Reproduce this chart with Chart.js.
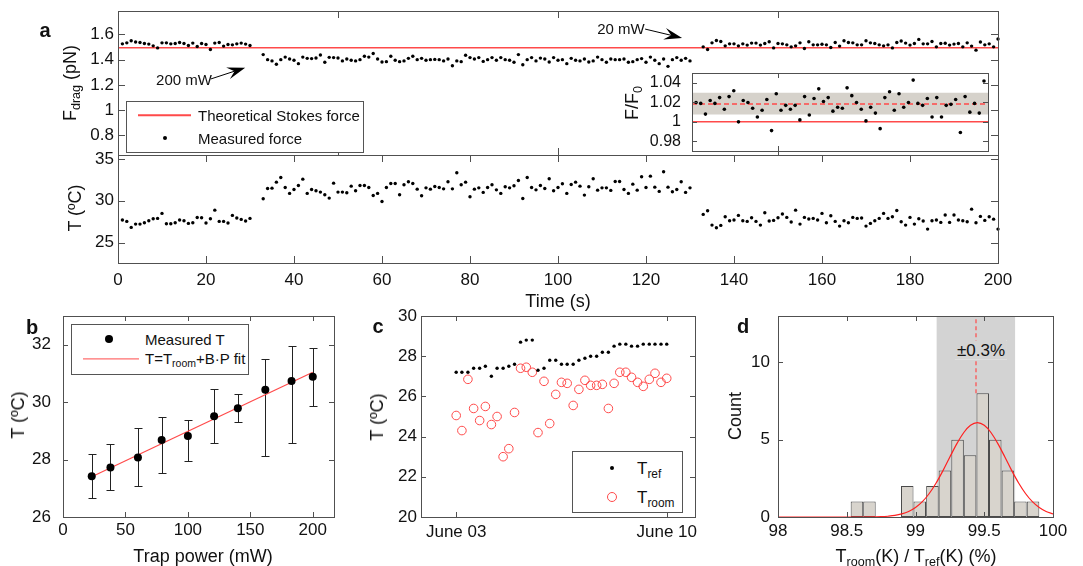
<!DOCTYPE html>
<html>
<head>
<meta charset="utf-8">
<script src="https://cdn.jsdelivr.net/npm/chart.js@4.4.1/dist/chart.umd.min.js"></script>
<style>
body { margin: 0; background: #fff; }
#fig { position: relative; width: 1083px; height: 566px; overflow: hidden; font-family: "Liberation Sans", Arial, sans-serif; color: #111; }
#fig canvas { position: absolute; left: 0; top: 0; }
.t { position: absolute; white-space: nowrap; line-height: 1; transform: translate(-50%, -50%); }
.r { transform: translate(-50%, -50%) rotate(-90deg); }
.pl { font-weight: bold; font-size: 20px; }
sub { font-size: 70%; vertical-align: -0.35em; line-height: 0; }
.leg { position: absolute; background: #fff; border: 1px solid #555; box-sizing: border-box; }
.leg span { position: absolute; transform: translateY(-50%); white-space: nowrap; line-height: 1; }
</style>
</head>
<body>
<div id="fig">
  <canvas id="cvTemp" width="1083" height="566"></canvas>
  <canvas id="cvForce" width="1083" height="566"></canvas>
  <canvas id="cvInset" width="1083" height="566"></canvas>
  <canvas id="cvB" width="1083" height="566"></canvas>
  <canvas id="cvC" width="1083" height="566"></canvas>
  <canvas id="cvD" width="1083" height="566"></canvas>

  <div class="t pl" style="left:45px;top:30px">a</div>
  <div class="t pl" style="left:32px;top:327px">b</div>
  <div class="t pl" style="left:378px;top:326px">c</div>
  <div class="t pl" style="left:743px;top:326px">d</div>

  <div class="t r" style="left:70px;top:83px;font-size:18px">F<sub>drag</sub> (pN)</div>
  <div class="t r" style="left:75px;top:208px;font-size:18px">T (ºC)</div>
  <div class="t" style="left:558px;top:301px;font-size:18px">Time (s)</div>
  <div class="t r" style="left:632px;top:103px;font-size:18px">F/F<sub>0</sub></div>
  <div class="t" style="left:184px;top:79px;font-size:15px">200 mW</div>
  <div class="t" style="left:621px;top:28px;font-size:15px">20 mW</div>

  <div class="leg" style="left:126px;top:101px;width:238px;height:52px">
    <span style="left:11px;top:13px;width:53px;height:1.5px;background:#ff4a4a"></span>
    <span style="left:36px;top:36px;width:4px;height:4px;border-radius:50%;background:#000"></span>
    <span style="left:71px;top:13px;font-size:15px">Theoretical Stokes force</span>
    <span style="left:71px;top:36px;font-size:15px">Measured force</span>
  </div>

  <div class="t r" style="left:18px;top:415px;font-size:18px">T (ºC)</div>
  <div class="t" style="left:203px;top:556px;font-size:18px">Trap power (mW)</div>
  <div class="leg" style="left:71px;top:324px;width:178px;height:51px">
    <span style="left:33px;top:14px;width:8px;height:8px;border-radius:50%;background:#000"></span>
    <span style="left:11px;top:34px;width:56px;height:1.2px;background:#ff4a4a"></span>
    <span style="left:73px;top:14px;font-size:15px">Measured T</span>
    <span style="left:73px;top:33px;font-size:15px">T=T<sub>room</sub>+B·P fit</span>
  </div>

  <div class="t r" style="left:377px;top:417px;font-size:18px">T (ºC)</div>
  <div class="leg" style="left:572px;top:451px;width:111px;height:62px">
    <span style="left:37px;top:16px;width:4px;height:4px;border-radius:50%;background:#000"></span>
    <span style="left:34px;top:45px;width:10px;height:10px;border-radius:50%;border:1px solid #ff4a4a;box-sizing:border-box"></span>
    <span style="left:64px;top:16px;font-size:17px">T<sub>ref</sub></span>
    <span style="left:64px;top:45px;font-size:17px">T<sub>room</sub></span>
  </div>

  <div class="t r" style="left:735px;top:416px;font-size:18px">Count</div>
  <div class="t" style="left:916px;top:556px;font-size:18px">T<sub>room</sub>(K) / T<sub>ref</sub>(K) (%)</div>
  <div class="t" style="left:981px;top:350px;font-size:17px;background:#d3d3d3;padding:1px 2px">±0.3%</div>
</div>

<script>
const W = 1083, H = 566;
const FONT = '"Liberation Sans", Arial, sans-serif';
const RED = '#ff4a4a';
const AXIS = '#505050';

// ---- panel a: one point per second, three laser power segments ----
const seg20aStart = 1, seg200Start = 33, seg20bStart = 133;
const force20a = [1.525, 1.533, 1.549, 1.539, 1.536, 1.528, 1.523, 1.509, 1.493, 1.533, 1.533, 1.525, 1.528, 1.536, 1.528,
  1.512, 1.531, 1.504, 1.528, 1.52, 1.48, 1.531, 1.536, 1.507, 1.52, 1.517, 1.525, 1.531, 1.523, 1.512];
const force200 = [1.44, 1.40, 1.39, 1.363, 1.40, 1.42, 1.405, 1.395, 1.368, 1.42, 1.41, 1.408, 1.413, 1.437, 1.379, 1.418,
  1.416, 1.413, 1.39, 1.405, 1.395, 1.39, 1.40, 1.427, 1.42, 1.448, 1.405, 1.381, 1.384, 1.427, 1.395, 1.384, 1.39, 1.41,
  1.427, 1.40, 1.41, 1.395, 1.40, 1.402, 1.40, 1.39, 1.405, 1.352, 1.39, 1.384, 1.435, 1.416, 1.405, 1.416, 1.386, 1.40,
  1.416, 1.395, 1.416, 1.40, 1.395, 1.379, 1.44, 1.36, 1.40, 1.416, 1.39, 1.412, 1.405, 1.381, 1.416,
  1.395, 1.40, 1.368, 1.41, 1.395, 1.39, 1.405, 1.381, 1.39, 1.42, 1.40, 1.379, 1.405, 1.40, 1.40, 1.405, 1.379, 1.384,
  1.40, 1.408, 1.379, 1.42, 1.395, 1.368, 1.405, 1.347, 1.40, 1.416, 1.395, 1.41, 1.39];
const force20b = [1.501, 1.48, 1.533, 1.552, 1.544, 1.509, 1.525, 1.525, 1.509, 1.525, 1.515, 1.531, 1.531, 1.515, 1.528,
  1.541, 1.493, 1.528, 1.525, 1.517, 1.501, 1.509, 1.533, 1.488, 1.541, 1.517, 1.517, 1.522, 1.517, 1.496, 1.536, 1.507,
  1.549, 1.536, 1.533, 1.517, 1.517, 1.549, 1.533, 1.528, 1.517, 1.509, 1.517, 1.493, 1.536, 1.547, 1.531, 1.515, 1.528,
  1.56, 1.525, 1.525, 1.544, 1.501, 1.528, 1.53, 1.515, 1.523, 1.528, 1.501, 1.533, 1.507, 1.475, 1.539, 1.517, 1.525,
  1.501, 1.563];
const stokesForce = 1.494;

const temp20a = [27.69, 27.53, 26.81, 27.21, 27.21, 27.37, 27.61, 27.85, 27.89, 28.49, 27.25, 27.25, 27.37, 27.69, 27.61,
  27.29, 27.37, 28.0, 27.97, 27.33, 27.85, 28.88, 27.53, 27.53, 27.33, 28.25, 27.93, 27.77, 27.57, 27.89];
const temp200 = [30.24, 31.47, 31.51, 32.23, 32.79, 31.59, 30.88, 31.35, 31.83, 32.59, 30.88, 31.35, 31.2, 31.04, 30.72,
  30.32, 32.11, 31.04, 31.04, 30.96, 31.75, 31.2, 31.83, 31.83, 31.59, 30.64, 30.88, 29.92, 31.59, 32.07, 32.07, 30.72,
  31.91, 32.27, 32.07, 31.39, 30.6, 31.55, 31.39, 31.71, 31.59, 31.43, 32.27, 31.43, 33.35, 31.91, 32.23, 30.48, 31.39,
  31.55, 31.0, 31.59, 31.91, 31.31, 30.88, 31.67, 31.55, 31.79, 32.43, 30.28, 32.79, 31.59, 31.31, 31.83, 31.47, 32.63,
  31.2, 31.59,
  32.03, 30.88, 31.95, 32.23, 31.75, 30.68, 31.67, 32.63, 31.27, 31.55, 31.55, 31.24, 32.31, 32.31, 31.35, 30.88, 31.99,
  31.27, 32.87, 31.59, 32.95, 31.63, 31.12, 33.47, 31.63, 31.08, 31.35, 32.27, 31.0, 31.55];
const temp20b = [28.37, 28.8, 27.09, 26.77, 27.05, 28.09, 27.61, 27.69, 28.25, 27.61, 27.53, 27.97, 27.53, 27.09, 28.57,
  27.57, 27.65, 27.97, 28.41, 28.01, 27.45, 28.88, 27.21, 28.01, 27.81, 27.89, 27.69, 28.49, 27.37, 28.21, 27.53, 26.97,
  27.61, 27.37, 28.01, 27.89, 27.93, 26.97, 27.29, 27.61, 27.89, 28.49, 27.89, 28.09, 28.84, 27.49, 27.09, 28.01, 27.21,
  27.85, 27.57, 26.61, 27.61, 27.69, 27.41, 28.29, 27.41, 28.29, 27.69, 27.61, 27.49, 29.0, 27.37, 28.13, 27.65, 28.09,
  27.8, 26.61];

const forceTicks = [0.8, 1, 1.2, 1.4, 1.6];
const tempTicks = [25, 30, 35];
const timeTicks = [0, 20, 40, 60, 80, 100, 120, 140, 160, 180, 200];
const timeTicksTop = [0, 50, 100, 150, 200];

// inset: F/F0 for each run
const ratioRuns = [1.020, 1.019, 1.008, 1.022, 1.019, 1.025, 1.013, 1.026, 1.032, 1.000, 1.022, 1.020, 1.014, 1.005, 1.012,
  1.023, 0.991, 1.029, 1.012, 1.017, 1.013, 1.017, 1.002, 1.026, 1.007, 1.024, 1.034, 1.021, 1.025, 1.011, 1.015, 1.014,
  1.035, 1.027, 1.020, 1.013, 1.001, 1.015, 1.009, 0.993, 1.025, 1.031, 1.012, 1.029, 1.015, 1.020, 1.043, 1.019, 1.017,
  1.024, 1.005, 1.025, 1.005, 1.017, 1.018, 1.023, 0.989, 1.026, 1.010, 1.019, 1.009, 1.042];
const ratioMean = 1.0184;
const ratioBand = [1.0075, 1.030];
const ratioTicks = [0.98, 1, 1.02, 1.04];
const insetTickX = [18.4];

// ---- panel b ----
const trapPower = [23, 38, 60, 79, 100, 121, 140, 162, 183, 200];
const tMeasured = [27.42, 27.72, 28.07, 28.68, 28.82, 29.51, 29.79, 30.43, 30.74, 30.88];
const tErrHigh = [28.18, 28.55, 29.09, 29.49, 29.38, 30.46, 30.27, 31.51, 31.94, 31.88];
const tErrLow = [26.67, 26.94, 27.09, 27.53, 27.94, 28.57, 29.32, 28.14, 28.56, 29.87];
const fitPower = [23, 200];
const fitT = [27.40, 31.04];

// ---- panel c: day of June ----
const measDay = [3.00, 3.19, 3.39, 3.58, 3.78, 3.97, 4.17, 4.36, 4.56, 4.75, 4.94, 5.14, 5.33, 5.53, 5.72, 5.92, 6.11,
  6.31, 6.50, 6.69, 6.89, 7.08, 7.28, 7.47, 7.67, 7.86, 8.06, 8.25, 8.44, 8.64, 8.83, 9.03, 9.22, 9.42, 9.61, 9.81, 10.00];
const tRef = [27.2, 27.2, 27.2, 27.4, 27.4, 27.5, 27.0, 27.4, 27.4, 27.5, 27.6, 28.7, 28.8, 28.8, 27.3, 27.4, 27.8, 27.8,
  27.6, 27.6, 27.6, 27.8, 27.9, 28.0, 28.0, 28.2, 28.2, 28.5, 28.6, 28.6, 28.5, 28.5, 28.6, 28.6, 28.6, 28.6, 28.6];
const tRoom = [25.05, 24.3, 26.85, 25.4, 24.8, 25.5, 24.6, 25.0, 23.0, 23.4, 25.2, 27.4, 27.45, 27.2, 24.2, 26.75, 24.65,
  26.1, 26.7, 26.65, 25.55, 26.35, 26.8, 26.55, 26.55, 26.6, 25.4, 26.65, 27.2, 27.2, 26.95, 26.7, 26.5, 26.85, 27.15,
  26.7, 26.9];
const dateTickDays = [3, 10];
const dateTickLabels = ['June 03', 'June 10'];

// ---- panel d: histogram of Troom/Tref (%) ----
const binCenters = [98.574, 98.665, 98.757, 98.848, 98.940, 99.031, 99.123, 99.214, 99.306, 99.397, 99.489, 99.580,
  99.672, 99.763, 99.855];
const binCounts = [1, 1, 0, 0, 2, 1, 2, 3, 5, 4, 8, 5, 3, 1, 1];
const gaussX = [98.0, 98.6, 98.7, 98.75, 98.8, 98.85, 98.9, 98.95, 99.0, 99.05, 99.1, 99.15, 99.2, 99.25, 99.3, 99.35,
  99.4, 99.45, 99.5, 99.55, 99.6, 99.65, 99.7, 99.75, 99.8, 99.85, 99.9, 99.95, 100.0];
const gaussY = [0, 0, 0.01, 0.02, 0.05, 0.10, 0.20, 0.36, 0.61, 0.99, 1.52, 2.20, 3.00, 3.88, 4.73, 5.45, 5.93, 6.10,
  5.93, 5.45, 4.73, 3.88, 3.00, 2.20, 1.52, 0.99, 0.61, 0.36, 0.20];
const ratioCenter = 99.44;
const ratioSpread = [99.152, 99.726];
const pctTicks = [98, 98.5, 99, 99.5, 100];
const countTicks = [0, 5, 10];

// ---------- helpers ----------
const seq = (start, vals) => vals.map((v, i) => ({ x: start + i, y: v }));
const pairs = (xs, ys) => xs.map((v, i) => ({ x: v, y: ys[i] }));

function axis(min, max, ticks, opts) {
  opts = opts || {};
  return {
    type: 'linear', min: min, max: max, offset: false,
    afterBuildTicks: s => { s.ticks = ticks.map(v => ({ value: v })); },
    grid: { display: false, drawTicks: false },
    border: { display: false },
    ticks: {
      display: opts.show !== false, padding: opts.pad || 4, color: '#111', autoSkip: false, maxRotation: 0,
      font: { family: FONT, size: opts.size || 17 },
      callback: opts.fmt || (v => String(v))
    }
  };
}

// box + inward tick marks on all four sides (MATLAB style)
const framePlugin = {
  id: 'frame',
  afterDraw(chart, args, o) {
    if (!o.xt) return;
    const { ctx, chartArea: a, scales: { x, y } } = chart;
    const len = o.len || 5;
    ctx.save();
    ctx.strokeStyle = AXIS;
    ctx.lineWidth = 1;
    ctx.beginPath();
    o.xt.forEach(v => {
      const px = Math.round(x.getPixelForValue(v)) + 0.5;
      ctx.moveTo(px, a.bottom); ctx.lineTo(px, a.bottom - len);
      ctx.moveTo(px, a.top); ctx.lineTo(px, a.top + len);
    });
    o.yt.forEach(v => {
      const py = Math.round(y.getPixelForValue(v)) + 0.5;
      ctx.moveTo(a.left, py); ctx.lineTo(a.left + len, py);
      ctx.moveTo(a.right, py); ctx.lineTo(a.right - len, py);
    });
    ctx.stroke();
    ctx.strokeRect(a.left + 0.5, a.top + 0.5, a.right - a.left, a.bottom - a.top);
    ctx.restore();
  }
};

const whiteBg = {
  id: 'whiteBg',
  beforeDraw(chart, args, o) {
    if (!o.on) return;
    const { ctx, chartArea: a } = chart;
    ctx.save();
    ctx.fillStyle = '#fff';
    ctx.fillRect(a.left, a.top, a.right - a.left, a.bottom - a.top);
    ctx.restore();
  }
};

const errorBars = {
  id: 'errorBars',
  beforeDatasetsDraw(chart, args, o) {
    if (!o.xs) return;
    const { ctx, scales: { x, y } } = chart;
    ctx.save();
    ctx.strokeStyle = '#222';
    ctx.lineWidth = 1;
    ctx.beginPath();
    o.xs.forEach((v, i) => {
      const px = Math.round(x.getPixelForValue(v)) + 0.5;
      const top = Math.round(y.getPixelForValue(o.hi[i])) + 0.5;
      const bot = Math.round(y.getPixelForValue(o.lo[i])) + 0.5;
      ctx.moveTo(px, top); ctx.lineTo(px, bot);
      ctx.moveTo(px - o.cap, top); ctx.lineTo(px + o.cap, top);
      ctx.moveTo(px - o.cap, bot); ctx.lineTo(px + o.cap, bot);
    });
    ctx.stroke();
    ctx.restore();
  }
};

const arrows = {
  id: 'arrows',
  afterDatasetsDraw(chart, args, o) {
    if (!o.list) return;
    const { ctx, scales: { x, y } } = chart;
    o.list.forEach(a => {
      const x0 = x.getPixelForValue(a.from[0]), y0 = y.getPixelForValue(a.from[1]);
      const x1 = x.getPixelForValue(a.to[0]), y1 = y.getPixelForValue(a.to[1]);
      const ang = Math.atan2(y1 - y0, x1 - x0);
      const L = 18, hw = 6;
      ctx.save();
      ctx.strokeStyle = '#000';
      ctx.lineWidth = 1;
      ctx.beginPath();
      ctx.moveTo(x0, y0);
      ctx.lineTo(x1 - Math.cos(ang) * L * 0.6, y1 - Math.sin(ang) * L * 0.6);
      ctx.stroke();
      ctx.translate(x1, y1);
      ctx.rotate(ang);
      ctx.beginPath();
      ctx.moveTo(0, 0);
      ctx.lineTo(-L, -hw);
      ctx.lineTo(-L * 0.62, 0);
      ctx.lineTo(-L, hw);
      ctx.closePath();
      ctx.fillStyle = '#000';
      ctx.fill();
      ctx.restore();
    });
  }
};

Chart.register(framePlugin, whiteBg, errorBars, arrows);

// the y axis box fills everything left of the plot, the x axis box everything below it,
// so the plot area lands on rect = [left, top, right, bottom]
function makeChart(id, rect, cfg) {
  const [l, t, r, b] = rect;
  const o = cfg.options;
  o.responsive = false;
  o.animation = false;
  o.events = [];
  o.devicePixelRatio = 1;
  o.layout = { padding: { left: 0, top: t, right: W - r, bottom: 0 } };
  o.scales.x.afterFit = s => { s.height = H - b; s.paddingLeft = s.paddingRight = s.paddingTop = s.paddingBottom = 0; };
  o.scales.y.afterFit = s => { s.width = l; s.paddingLeft = s.paddingRight = s.paddingTop = s.paddingBottom = 0; };
  o.plugins = Object.assign({ legend: { display: false }, tooltip: { enabled: false } }, o.plugins);
  return new Chart(document.getElementById(id), cfg);
}

const dot = (data, r) => ({ data: data, pointRadius: r, pointBackgroundColor: '#000', pointBorderWidth: 0, clip: false });
const hline = (x0, x1, v, color, width, dash) => ({
  type: 'line', data: [{ x: x0, y: v }, { x: x1, y: v }], borderColor: color, borderWidth: width,
  borderDash: dash || [], pointRadius: 0
});

// a, bottom: temperature vs time
makeChart('cvTemp', [118, 155, 998, 263], {
  type: 'scatter',
  data: { datasets: [dot(seq(seg20aStart, temp20a).concat(seq(seg200Start, temp200), seq(seg20bStart, temp20b)), 1.7)] },
  options: {
    scales: { x: axis(0, 200, timeTicks, { pad: 7 }), y: axis(22.55, 35.48, tempTicks) },
    plugins: { frame: { xt: timeTicks, yt: tempTicks, len: 7 } }
  }
});

// a, top: drag force vs time (first dataset is drawn on top)
makeChart('cvForce', [118, 11, 998, 155], {
  type: 'scatter',
  data: {
    datasets: [
      dot(seq(seg20aStart, force20a).concat(seq(seg200Start, force200), seq(seg20bStart, force20b)), 1.7),
      hline(0, 200, stokesForce, RED, 1.5)
    ]
  },
  options: {
    scales: { x: axis(0, 200, timeTicksTop, { show: false }), y: axis(0.645, 1.785, forceTicks) },
    plugins: {
      frame: { xt: timeTicksTop, yt: forceTicks, len: 7 },
      arrows: { list: [{ from: [21.1, 1.247], to: [28.9, 1.336] }, { from: [119.8, 1.642], to: [128.2, 1.572] }] }
    }
  }
});

// a, inset: F/F0
makeChart('cvInset', [692, 73, 988, 151], {
  type: 'scatter',
  data: {
    datasets: [
      dot(seq(1, ratioRuns), 1.8),
      hline(0.15, 62.85, 1, RED, 1.5),
      hline(0.15, 62.85, ratioMean, RED, 1.5, [5, 3]),
      Object.assign(hline(0.15, 62.85, ratioBand[1], 'rgba(0,0,0,0)', 0), { fill: '+1', backgroundColor: '#d6d2cb' }),
      hline(0.15, 62.85, ratioBand[0], 'rgba(0,0,0,0)', 0)
    ]
  },
  options: {
    scales: { x: axis(0.15, 62.85, insetTickX, { show: false }), y: axis(0.97, 1.0503, ratioTicks, { pad: 11, size: 16 }) },
    plugins: { whiteBg: { on: true }, frame: { xt: insetTickX, yt: ratioTicks, len: 5 } }
  }
});

// b: temperature vs trap power
makeChart('cvB', [63, 316, 334, 517], {
  type: 'scatter',
  data: {
    datasets: [
      dot(pairs(trapPower, tMeasured), 4),
      { type: 'line', data: pairs(fitPower, fitT), borderColor: RED, borderWidth: 1.2, pointRadius: 0 }
    ]
  },
  options: {
    scales: {
      x: axis(0, 217, [0, 50, 100, 150, 200], { pad: 3 }),
      y: axis(26, 33, [26, 28, 30, 32], { pad: 12 })
    },
    plugins: {
      frame: { xt: [0, 50, 100, 150, 200], yt: [26, 28, 30, 32], len: 5 },
      errorBars: { xs: trapPower, hi: tErrHigh, lo: tErrLow, cap: 4 }
    }
  }
});

// c: reference vs room temperature over a week
makeChart('cvC', [421, 316, 695, 517], {
  type: 'scatter',
  data: {
    datasets: [
      dot(pairs(measDay, tRef), 1.7),
      { data: pairs(measDay, tRoom), pointRadius: 4.3, pointBackgroundColor: 'rgba(0,0,0,0)', pointBorderColor: RED, pointBorderWidth: 1, clip: false }
    ]
  },
  options: {
    scales: {
      x: axis(1.83, 10.94, dateTickDays, { pad: 5, fmt: v => dateTickLabels[dateTickDays.indexOf(v)] }),
      y: axis(20, 30, [20, 22, 24, 26, 28, 30], { pad: 4 })
    },
    plugins: { frame: { xt: dateTickDays, yt: [20, 22, 24, 26, 28, 30], len: 5 } }
  }
});

// d: histogram with gaussian fit (higher order is drawn first)
makeChart('cvD', [778, 316, 1053, 517], {
  type: 'bar',
  data: {
    datasets: [
      { type: 'line', data: [{ x: ratioSpread[0], y: 13 }, { x: ratioSpread[1], y: 13 }], fill: 'origin', backgroundColor: '#d3d3d3', borderWidth: 0, pointRadius: 0, order: 10 },
      { type: 'bar', data: pairs(binCenters, binCounts), backgroundColor: '#d8d4cd', borderColor: '#4a4a4a', borderWidth: 1, borderSkipped: false, inflateAmount: 0, barPercentage: 1, categoryPercentage: 1, order: 5 },
      { type: 'line', data: pairs(gaussX, gaussY), borderColor: '#ff2020', borderWidth: 1.2, pointRadius: 0, cubicInterpolationMode: 'monotone', order: 1 },
      { type: 'line', data: [{ x: ratioCenter, y: 8 }, { x: ratioCenter, y: 13 }], borderColor: RED, borderWidth: 1.2, borderDash: [4, 3], pointRadius: 0, order: 0 }
    ]
  },
  options: {
    scales: {
      x: axis(98, 100, pctTicks, { pad: 4 }),
      y: axis(0, 13, countTicks, { pad: 8 })
    },
    plugins: { frame: { xt: pctTicks, yt: countTicks, len: 5 } }
  }
});
</script>
</body>
</html>
